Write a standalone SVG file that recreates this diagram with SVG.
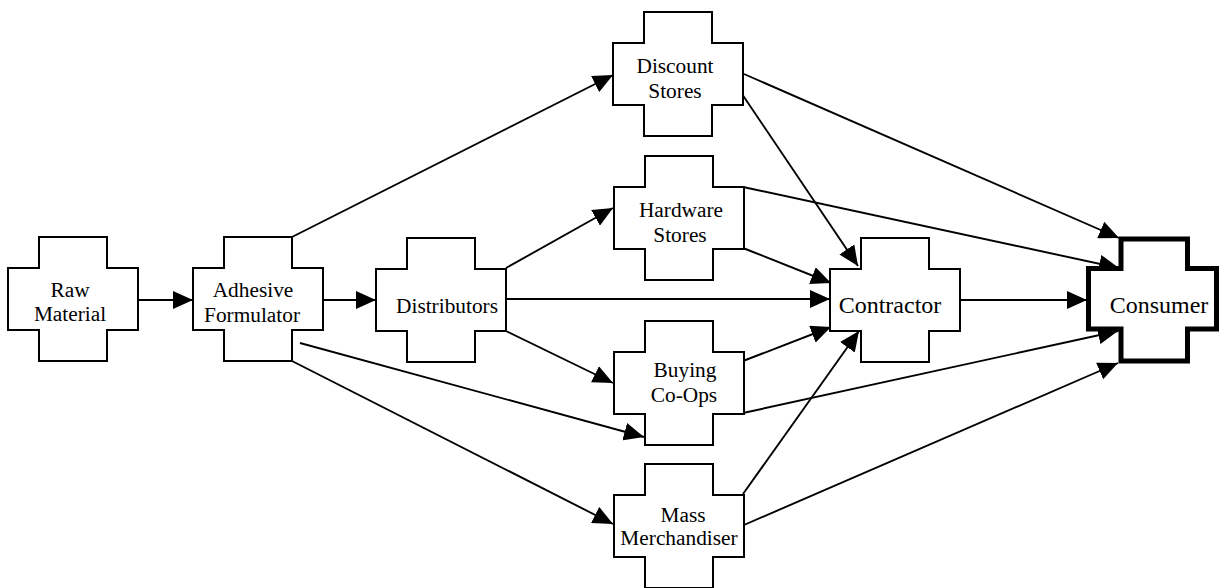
<svg xmlns="http://www.w3.org/2000/svg" width="1219" height="588" viewBox="0 0 1219 588">
<defs>
<marker id="arr" markerUnits="userSpaceOnUse" markerWidth="20" markerHeight="18" refX="20" refY="9" orient="auto" viewBox="0 0 20 18">
<path d="M0,0 L20,9 L0,18 z" fill="#000"/>
</marker>
<path id="cross" d="M31,0 H99 V31 H130 V93 H99 V124 H31 V93 H0 V31 H31 Z"/>
</defs>
<style>
.node{fill:#fff;stroke:#000;stroke-width:2}
.cons{fill:#fff;stroke:#000;stroke-width:5}
.t{font-family:"Liberation Serif","Times New Roman",serif;font-size:21.33px;text-anchor:middle;fill:#000}
.tb{font-family:"Liberation Serif","Times New Roman",serif;font-size:24px;text-anchor:middle;fill:#000}
.e{stroke:#000;stroke-width:1.9;fill:none;marker-end:url(#arr)}
</style>
<rect width="1219" height="588" fill="#fff"/>
<g id="connectors">
<line class="e" x1="138" y1="300" x2="193" y2="300"/>
<line class="e" x1="322" y1="300" x2="376" y2="300"/>
<line class="e" x1="292" y1="237" x2="613" y2="75"/>
<line class="e" x1="300" y1="343" x2="644" y2="437"/>
<line class="e" x1="292" y1="361" x2="613" y2="524"/>
<line class="e" x1="506" y1="268" x2="613" y2="208"/>
<line class="e" x1="506" y1="299" x2="830" y2="299"/>
<line class="e" x1="506" y1="331" x2="613" y2="383"/>
<line class="e" x1="742" y1="94" x2="858" y2="266"/>
<line class="e" x1="744" y1="74" x2="1119" y2="238"/>
<line class="e" x1="743" y1="187" x2="1119" y2="268"/>
<line class="e" x1="743" y1="248" x2="831" y2="283"/>
<line class="e" x1="959" y1="300" x2="1087" y2="300"/>
<line class="e" x1="743" y1="361" x2="831" y2="327"/>
<line class="e" x1="743" y1="413" x2="1118" y2="331"/>
<line class="e" x1="743" y1="494" x2="859" y2="331"/>
<line class="e" x1="744" y1="525" x2="1118" y2="363"/>
</g>
<g id="raw-material">
<use href="#cross" class="node" x="8" y="237"/>
<text class="t" x="70" y="297">Raw</text>
<text class="t" x="70" y="321">Material</text>
</g>
<g id="adhesive-formulator">
<use href="#cross" class="node" x="193" y="237"/>
<text class="t" x="253" y="297">Adhesive</text>
<text class="t" x="252" y="322">Formulator</text>
</g>
<g id="distributors">
<use href="#cross" class="node" x="376" y="238"/>
<text class="t" x="447" y="313">Distributors</text>
</g>
<g id="discount-stores">
<use href="#cross" class="node" x="613" y="12"/>
<text class="t" x="675" y="73">Discount</text>
<text class="t" x="675" y="98">Stores</text>
</g>
<g id="hardware-stores">
<use href="#cross" class="node" x="614" y="156"/>
<text class="t" x="681" y="217">Hardware</text>
<text class="t" x="680" y="242">Stores</text>
</g>
<g id="buying-co-ops">
<use href="#cross" class="node" x="614" y="321"/>
<text class="t" x="685" y="377">Buying</text>
<text class="t" x="684" y="402">Co-Ops</text>
</g>
<g id="mass-merchandiser">
<use href="#cross" class="node" x="614" y="464"/>
<text class="t" x="683" y="522">Mass</text>
<text class="t" x="679" y="545">Merchandiser</text>
</g>
<g id="contractor">
<use href="#cross" class="node" x="830" y="238"/>
<text class="tb" x="890" y="313">Contractor</text>
</g>
<g id="consumer">
<path class="cons" d="M1121,239 H1187.5 V268.5 H1216.5 V329 H1187.5 V361 H1121 V329 H1088.5 V268.5 H1121 Z"/>
<text class="tb" x="1159" y="313">Consumer</text>
</g>
</svg>
